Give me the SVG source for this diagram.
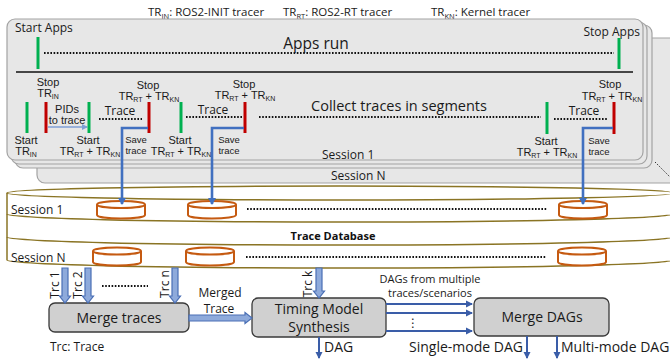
<svg xmlns="http://www.w3.org/2000/svg" width="670" height="360" viewBox="0 0 670 360">
<defs>
<style>
.os{font-family:"Open Sans","DejaVu Sans",sans-serif;fill:#1a1a1a}
.ar{font-family:"Liberation Sans",Arial,sans-serif;fill:#1a1a1a}
.panel{fill:#e7e7e7;stroke:#a3a3a3;stroke-width:1.2}
.g{stroke:#00b050;stroke-width:3}
.r{stroke:#c00000;stroke-width:3}
.dot{stroke:#111;stroke-width:1.8;stroke-dasharray:1.6 1.6;fill:none}
.save{stroke:#4170c0;stroke-width:2.6;fill:none}
.db{stroke:#8a7424;stroke-width:1.5;fill:none}
.cyl{stroke:#c55a11;stroke-width:2;fill:#fff}
.box{fill:#d0d0d0;stroke:#3a3a3a;stroke-width:1.3}
.fat{fill:#8eaadb;stroke:#4a6fb5;stroke-width:1.2}
.thin{stroke:#3a5da8;stroke-width:2;fill:none}
</style>
<marker id="ab" markerWidth="8" markerHeight="8" refX="6" refY="4" orient="auto" markerUnits="userSpaceOnUse"><path d="M0,0 L7,4 L0,8 Z" fill="#4170c0"/></marker>
<marker id="at" markerWidth="8" markerHeight="8" refX="6" refY="4" orient="auto" markerUnits="userSpaceOnUse"><path d="M0,0.5 L7,4 L0,7.5 Z" fill="#3a5da8"/></marker>
<marker id="al" markerWidth="6" markerHeight="6" refX="5" refY="3" orient="auto" markerUnits="userSpaceOnUse"><path d="M0,0 L6,3 L0,6 Z" fill="#7f9fd6"/></marker>
</defs>

<!-- header legend -->
<g id="legend" font-size="11.5">
<text class="os" x="148" y="16">TR<tspan font-size="7.5" dy="2.5">IN</tspan><tspan dy="-2.5">: ROS2-INIT tracer</tspan></text>
<text class="os" x="283" y="16">TR<tspan font-size="7.5" dy="2.5">RT</tspan><tspan dy="-2.5">: ROS2-RT tracer</tspan></text>
<text class="os" x="431" y="16">TR<tspan font-size="7.5" dy="2.5">KN</tspan><tspan dy="-2.5">: Kernel tracer</tspan></text>
</g>

<!-- session stack -->
<g id="sessionN">
<rect class="panel" x="37" y="38" width="700" height="145" rx="8"/>
<text class="os" x="331" y="180" font-size="12">Session N</text>
<line x1="655" y1="162" x2="670" y2="177" stroke="#333" stroke-width="1" stroke-dasharray="1.5 1.5"/>
</g>
<g id="session1">
<rect class="panel" x="15" y="25" width="637" height="143" rx="8"/>
<rect class="panel" x="11" y="22" width="636" height="142" rx="8"/>
<rect class="panel" x="7" y="19" width="636" height="141" rx="8"/>
<text class="os" x="322" y="159" font-size="12">Session 1</text>

<text class="os" x="15" y="32" font-size="12">Start Apps</text>
<text class="os" x="640" y="36" font-size="12" text-anchor="end">Stop Apps</text>
<line class="g" x1="38" y1="37" x2="38" y2="69"/>
<line class="g" x1="619" y1="38" x2="619" y2="69"/>
<line class="dot" x1="44" y1="53" x2="614" y2="53"/>
<text class="os" x="316" y="49" font-size="15.5" text-anchor="middle">Apps run</text>
<line x1="16" y1="72" x2="633" y2="72" stroke="#111" stroke-width="1.5"/>

<text class="os" x="399" y="111" font-size="14.5" text-anchor="middle">Collect traces in segments</text>

<!-- TR_IN segment -->
<line class="g" x1="27" y1="102" x2="27" y2="133"/>
<line class="r" x1="46" y1="102" x2="46" y2="133"/>
<text class="ar" x="48" y="86" font-size="11" text-anchor="middle">Stop</text>
<text class="ar" x="48" y="97" font-size="11" text-anchor="middle">TR<tspan font-size="7" dy="2">IN</tspan></text>
<text class="ar" x="26" y="144" font-size="11" text-anchor="middle">Start</text>
<text class="ar" x="26" y="155" font-size="11" text-anchor="middle">TR<tspan font-size="7" dy="2">IN</tspan></text>
<text class="ar" x="67" y="113" font-size="11" text-anchor="middle">PIDs</text>
<text class="ar" x="67" y="124" font-size="11" text-anchor="middle">to trace</text>
<line x1="48" y1="127" x2="87" y2="127" stroke="#7f9fd6" stroke-width="1.5" marker-end="url(#al)"/>

<!-- segment 1 -->
<line class="g" x1="89" y1="102" x2="89" y2="133"/>
<line class="dot" x1="99" y1="119" x2="142" y2="119"/>
<text class="os" x="120" y="115" font-size="12" text-anchor="middle">Trace</text>
<line class="r" x1="149" y1="102" x2="149" y2="133"/>
<text class="ar" x="148" y="89" font-size="11" text-anchor="middle">Stop</text>
<text class="ar" x="149" y="100" font-size="11" text-anchor="middle">TR<tspan font-size="7" dy="2">RT</tspan><tspan dy="-2"> + TR</tspan><tspan font-size="7" dy="2">KN</tspan></text>
<text class="ar" x="88" y="144" font-size="11" text-anchor="middle">Start</text>
<text class="ar" x="90" y="155" font-size="11" text-anchor="middle">TR<tspan font-size="7" dy="2">RT</tspan><tspan dy="-2"> + TR</tspan><tspan font-size="7" dy="2">KN</tspan></text>
<text class="ar" x="136" y="143" font-size="9.5" text-anchor="middle">Save</text>
<text class="ar" x="136" y="154" font-size="9.5" text-anchor="middle">trace</text>

<!-- segment 2 -->
<line class="g" x1="181" y1="102" x2="181" y2="133"/>
<line class="dot" x1="186" y1="117" x2="242" y2="117"/>
<text class="os" x="213" y="114" font-size="12" text-anchor="middle">Trace</text>
<line class="r" x1="245" y1="102" x2="245" y2="133"/>
<text class="ar" x="244" y="88" font-size="11" text-anchor="middle">Stop</text>
<text class="ar" x="245" y="99" font-size="11" text-anchor="middle">TR<tspan font-size="7" dy="2">RT</tspan><tspan dy="-2"> + TR</tspan><tspan font-size="7" dy="2">KN</tspan></text>
<text class="ar" x="180" y="144" font-size="11" text-anchor="middle">Start</text>
<text class="ar" x="181" y="155" font-size="11" text-anchor="middle">TR<tspan font-size="7" dy="2">RT</tspan><tspan dy="-2"> + TR</tspan><tspan font-size="7" dy="2">KN</tspan></text>
<text class="ar" x="229" y="143" font-size="9.5" text-anchor="middle">Save</text>
<text class="ar" x="229" y="154" font-size="9.5" text-anchor="middle">trace</text>

<line class="dot" x1="259" y1="117" x2="541" y2="117"/>

<!-- last segment -->
<line class="g" x1="547" y1="102" x2="547" y2="134"/>
<line class="dot" x1="554" y1="119" x2="608" y2="119"/>
<text class="os" x="584" y="115" font-size="12" text-anchor="middle">Trace</text>
<line class="r" x1="614" y1="102" x2="614" y2="134"/>
<text class="ar" x="610" y="88" font-size="11" text-anchor="middle">Stop</text>
<text class="ar" x="612" y="100" font-size="11" text-anchor="middle">TR<tspan font-size="7" dy="2">RT</tspan><tspan dy="-2"> + TR</tspan><tspan font-size="7" dy="2">KN</tspan></text>
<text class="ar" x="546" y="145" font-size="11" text-anchor="middle">Start</text>
<text class="ar" x="547" y="156" font-size="11" text-anchor="middle">TR<tspan font-size="7" dy="2">RT</tspan><tspan dy="-2"> + TR</tspan><tspan font-size="7" dy="2">KN</tspan></text>
<text class="ar" x="599" y="144" font-size="9.5" text-anchor="middle">Save</text>
<text class="ar" x="599" y="155" font-size="9.5" text-anchor="middle">trace</text>
</g>

<!-- trace database -->
<g id="database">
<path d="M7,193 L7,260 A333,8 0 0,0 673,260 L673,193 Z" fill="#fff"/>
<ellipse class="db" cx="340" cy="193" rx="333" ry="7" fill="#fff"/>
<path class="db" d="M7,214 A333,8 0 0,0 673,214"/>
<path class="db" d="M7,237 A333,8 0 0,0 673,237"/>
<path class="db" d="M7,260 A333,8 0 0,0 673,260"/>
<line class="db" x1="7" y1="193" x2="7" y2="260"/>
<text class="os" x="11" y="214" font-size="12">Session 1</text>
<text class="os" x="11" y="262" font-size="12">Session N</text>
<text x="333" y="240" font-size="11" font-weight="bold" text-anchor="middle" font-family="'Open Sans','DejaVu Sans',sans-serif" fill="#111">Trace Database</text>
<line class="dot" x1="247" y1="209" x2="547" y2="209"/>
<line class="dot" x1="246" y1="257" x2="546" y2="257"/>
<g id="cyls">
<path class="cyl" d="M97,204.5 V215 A24,3.5 0 0,0 145,215 V204.5"/><ellipse class="cyl" cx="121" cy="204.5" rx="24" ry="3.5"/>
<path class="cyl" d="M188,204.5 V215 A24,3.5 0 0,0 236,215 V204.5"/><ellipse class="cyl" cx="212" cy="204.5" rx="24" ry="3.5"/>
<path class="cyl" d="M559,204.5 V215 A24,3.5 0 0,0 607,215 V204.5"/><ellipse class="cyl" cx="583" cy="204.5" rx="24" ry="3.5"/>
<path class="cyl" d="M93,251 V262 A24,3.5 0 0,0 141,262 V251"/><ellipse class="cyl" cx="117" cy="251" rx="24" ry="3.5"/>
<path class="cyl" d="M186,251 V262 A24,3.5 0 0,0 234,262 V251"/><ellipse class="cyl" cx="210" cy="251" rx="24" ry="3.5"/>
<path class="cyl" d="M558,251 V262 A24,3.5 0 0,0 606,262 V251"/><ellipse class="cyl" cx="582" cy="251" rx="24" ry="3.5"/>
</g>
</g>

<!-- nodes -->
<g id="mergeTraces">
<rect class="box" x="49" y="303" width="140" height="29" rx="6"/>
<text class="os" x="119" y="323" font-size="14" text-anchor="middle">Merge traces</text>
</g>
<g id="timingModel">
<rect class="box" x="252" y="298" width="134" height="39" rx="6"/>
<text class="os" x="319" y="314" font-size="14" text-anchor="middle">Timing Model</text>
<text class="os" x="319" y="332" font-size="14" text-anchor="middle">Synthesis</text>
</g>
<g id="mergeDAGs">
<rect class="box" x="474" y="298" width="135" height="38" rx="6"/>
<text class="os" x="542" y="322" font-size="14" text-anchor="middle">Merge DAGs</text>
</g>

<!-- connectors -->
<g id="connectors">
<path class="save" d="M148,128 H122 V204" marker-end="url(#ab)"/>
<path class="save" d="M244,128 H212 V204" marker-end="url(#ab)"/>
<path class="save" d="M613,128 H583 V204" marker-end="url(#ab)"/>

<path class="fat" d="M62,268 H68 V296 H70.5 L65,303 L59.5,296 H62 Z"/>
<path class="fat" d="M85,268 H91 V296 H93.5 L88,303 L82.5,296 H85 Z"/>
<path class="fat" d="M172,268 H178 V296 H180.5 L175,303 L169.5,296 H172 Z"/>
<path class="fat" d="M316,268 H322 V291 H324.5 L319,298 L313.5,291 H316 Z"/>
<path class="fat" d="M189,315 H245 V312.5 L252,318 L245,323.5 V321 H189 Z"/>
<line class="dot" x1="102" y1="286" x2="148" y2="286"/>
<g class="os" font-size="12">
<text transform="translate(59,285) rotate(-90)" text-anchor="middle">Trc 1</text>
<text transform="translate(82,285) rotate(-90)" text-anchor="middle">Trc 2</text>
<text transform="translate(169,284) rotate(-90)" text-anchor="middle">Trc n</text>
<text transform="translate(312,284) rotate(-90)" text-anchor="middle">Trc k</text>
<text x="220" y="297" text-anchor="middle">Merged</text>
<text x="219" y="313" text-anchor="middle">Trace</text>
</g>
<g class="os" font-size="11">
<text x="430" y="283" text-anchor="middle">DAGs from multiple</text>
<text x="430" y="297" text-anchor="middle">traces/scenarios</text>
</g>
<line class="thin" x1="386" y1="304" x2="472" y2="304" marker-end="url(#at)"/>
<line class="thin" x1="386" y1="313" x2="472" y2="313" marker-end="url(#at)"/>
<line class="thin" x1="386" y1="331" x2="472" y2="331" marker-end="url(#at)"/>
<text class="os" x="413" y="327" font-size="12" text-anchor="middle">⋮</text>
<line class="thin" x1="319" y1="337" x2="319" y2="358" marker-end="url(#at)"/>
<line class="thin" x1="527" y1="336" x2="527" y2="358" marker-end="url(#at)"/>
<line class="thin" x1="557" y1="336" x2="557" y2="358" marker-end="url(#at)"/>
<text class="os" x="324" y="352" font-size="14">DAG</text>
<text class="os" x="523" y="352" font-size="14" text-anchor="end">Single-mode DAG</text>
<text class="os" x="561" y="352" font-size="14">Multi-mode DAG</text>
</g>
<text class="os" x="50" y="351" font-size="12">Trc: Trace</text>
</svg>
